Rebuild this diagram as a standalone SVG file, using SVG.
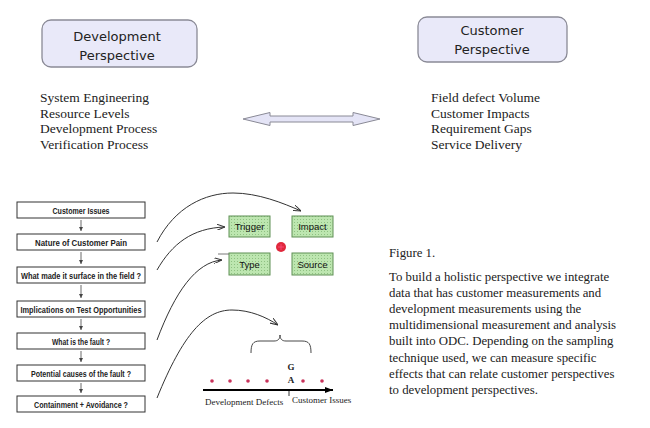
<svg xmlns="http://www.w3.org/2000/svg" width="650" height="428" viewBox="0 0 650 428">
<defs>
<style>
.persp{fill:#e9e9f9;stroke:#8a8a96;stroke-width:1.3}
.ptxt{font-family:"DejaVu Sans",Verdana,sans-serif;font-size:13px;fill:#222;text-anchor:middle}
.list{font-family:"Liberation Serif","Times New Roman",serif;font-size:13.5px;fill:#222}
.step{fill:#fff;stroke:#333;stroke-width:1}
.stxt{font-family:"Liberation Sans",Arial,sans-serif;font-size:9px;font-weight:bold;fill:#222;text-anchor:middle}
.odc{fill:url(#dots);stroke:#5f8f55;stroke-width:1}
.otxt{font-family:"Liberation Sans",Arial,sans-serif;font-size:9.5px;fill:#111;text-anchor:middle}
.curve{fill:none;stroke:#333;stroke-width:1}
.down{stroke:#444;stroke-width:0.8}
.para{font-family:"Liberation Serif","Times New Roman",serif;font-size:12.8px;fill:#222}
.small{font-family:"Liberation Serif","Times New Roman",serif;font-size:9px;fill:#222}
</style>
<pattern id="dots" width="3" height="3" patternUnits="userSpaceOnUse">
<rect width="3" height="3" fill="#bde6b0"/>
<rect width="1" height="1" fill="#8fc082"/>
</pattern>
<marker id="open" viewBox="0 0 8 6" refX="8" refY="3" markerWidth="8" markerHeight="6" orient="auto" markerUnits="userSpaceOnUse">
<path d="M0,0 L8,3 L0,6" fill="none" stroke="#333" stroke-width="1"/>
</marker>
<marker id="tiny" viewBox="0 0 4 4" refX="4" refY="2" markerWidth="4" markerHeight="4" orient="auto" markerUnits="userSpaceOnUse">
<path d="M0,0 L4,2 L0,4 Z" fill="#444"/>
</marker>
<marker id="solid" viewBox="0 0 8 6" refX="8" refY="3" markerWidth="8" markerHeight="6" orient="auto" markerUnits="userSpaceOnUse">
<path d="M0,0 L8,3 L0,6 Z" fill="#000"/>
</marker>
</defs>
<rect width="650" height="428" fill="#fff"/>

<g id="dev-perspective">
<rect class="persp" x="42" y="20" width="155" height="47" rx="9"/>
<text class="ptxt" x="117" y="41">Development</text>
<text class="ptxt" x="117" y="60">Perspective</text>
</g>
<g id="cust-perspective">
<rect class="persp" x="418" y="17" width="149" height="45" rx="9"/>
<text class="ptxt" x="492" y="35">Customer</text>
<text class="ptxt" x="492" y="54">Perspective</text>
</g>

<g id="dev-list">
<text class="list" x="40" y="102">System Engineering</text>
<text class="list" x="40" y="117.5">Resource Levels</text>
<text class="list" x="40" y="133">Development Process</text>
<text class="list" x="40" y="148.5">Verification Process</text>
</g>
<g id="cust-list">
<text class="list" x="431" y="102">Field defect Volume</text>
<text class="list" x="431" y="117.5">Customer Impacts</text>
<text class="list" x="431" y="133">Requirement Gaps</text>
<text class="list" x="431" y="148.5">Service Delivery</text>
</g>

<g id="double-arrow">
<path d="M243,119 L270,112.5 L270,116 L353,116 L353,112.5 L380,119 L353,125.5 L353,122 L270,122 L270,125.5 Z" fill="#e4e4f6" stroke="#8a8a96" stroke-width="1"/>
</g>

<g id="step1"><rect class="step" x="17" y="202" width="128" height="16"/><text class="stxt" x="81" y="213.5" textLength="57" lengthAdjust="spacingAndGlyphs">Customer Issues</text></g>
<g id="step2"><rect class="step" x="17" y="234" width="128" height="16"/><text class="stxt" x="81" y="245.5" textLength="92" lengthAdjust="spacingAndGlyphs">Nature of Customer Pain</text></g>
<g id="step3"><rect class="step" x="17" y="267" width="128" height="16"/><text class="stxt" x="81" y="278.5" textLength="120" lengthAdjust="spacingAndGlyphs">What made it surface in the field ?</text></g>
<g id="step4"><rect class="step" x="17" y="301" width="128" height="16"/><text class="stxt" x="81" y="312.5" textLength="121" lengthAdjust="spacingAndGlyphs">Implications on Test Opportunities</text></g>
<g id="step5"><rect class="step" x="17" y="333" width="128" height="16"/><text class="stxt" x="81" y="344.5" textLength="58" lengthAdjust="spacingAndGlyphs">What is the fault ?</text></g>
<g id="step6"><rect class="step" x="17" y="365" width="128" height="16"/><text class="stxt" x="81" y="376.5" textLength="100" lengthAdjust="spacingAndGlyphs">Potential causes of the fault ?</text></g>
<g id="step7"><rect class="step" x="17" y="396" width="128" height="16"/><text class="stxt" x="81" y="407.5" textLength="94" lengthAdjust="spacingAndGlyphs">Containment + Avoidance ?</text></g>

<g id="trigger"><rect class="odc" x="229" y="216" width="41" height="21"/><text class="otxt" x="249.5" y="230">Trigger</text></g>
<g id="impact"><rect class="odc" x="292" y="216" width="41" height="21"/><text class="otxt" x="312.5" y="230">Impact</text></g>
<g id="type"><rect class="odc" x="229" y="253" width="41" height="22"/><text class="otxt" x="249.5" y="267.5">Type</text></g>
<g id="source"><rect class="odc" x="292" y="253" width="41" height="22"/><text class="otxt" x="312.5" y="267.5">Source</text></g>
<g id="center-dot">
<circle cx="281" cy="247" r="5" fill="#e0283c"/>
<path d="M278,247 H284 M281,244 V250" stroke="#f58" stroke-width="0.7"/>
</g>

<g id="connectors">
<line class="down" x1="81" y1="220" x2="81" y2="231" marker-end="url(#tiny)"/>
<line class="down" x1="81" y1="252" x2="81" y2="264" marker-end="url(#tiny)"/>
<line class="down" x1="81" y1="285" x2="81" y2="298" marker-end="url(#tiny)"/>
<line class="down" x1="81" y1="319" x2="81" y2="330" marker-end="url(#tiny)"/>
<line class="down" x1="81" y1="351" x2="81" y2="362" marker-end="url(#tiny)"/>
<line class="down" x1="81" y1="383" x2="81" y2="393" marker-end="url(#tiny)"/>
<path class="curve" d="M157,242 C175,207 205,193 233,193 C258,193 283,203 301,211" marker-end="url(#open)"/>
<path class="curve" d="M157,270 C172,244 192,228 225,227" marker-end="url(#open)"/>
<path class="curve" d="M157,340 C175,292 196,262 222,260" marker-end="url(#open)"/>
<path class="curve" d="M157,398 C183,334 205,310 232,310 C250,310 266,317 278,325" marker-end="url(#open)"/>
<line x1="218" y1="254" x2="229" y2="254" stroke="#555" stroke-width="0.8"/>
</g>

<g id="sampling">
<path d="M251,353 C251,344 253,341 260,341 L274,341 C278,341 280,339 280,335 C280,339 282,341 286,341 L302,341 C309,341 311,344 311,353" fill="none" stroke="#333" stroke-width="0.9"/>
<text class="small" x="291" y="370" text-anchor="middle" font-weight="bold">G</text>
<text class="small" x="291" y="383" text-anchor="middle" font-weight="bold">A</text>
<g fill="#c8325a">
<circle cx="212" cy="381" r="1.8"/><circle cx="230" cy="381" r="1.8"/><circle cx="248" cy="381" r="1.8"/><circle cx="267" cy="381" r="1.8"/><circle cx="303" cy="381" r="1.8"/><circle cx="322" cy="381" r="1.8"/>
</g>
<line x1="203" y1="390" x2="333" y2="390" stroke="#000" stroke-width="2" marker-end="url(#solid)"/>
<line x1="289" y1="390" x2="289" y2="396" stroke="#000" stroke-width="0.8"/>
<text class="small" x="205" y="405">Development Defects</text>
<text class="small" x="292" y="403">Customer Issues</text>
</g>

<g id="caption">
<text class="para" x="389" y="257">Figure 1.</text>
<text class="para" x="389" y="280.5">To build a holistic perspective we integrate</text>
<text class="para" x="389" y="296.5">data that has customer measurements and</text>
<text class="para" x="389" y="313">development measurements using the</text>
<text class="para" x="389" y="329">multidimensional measurement and analysis</text>
<text class="para" x="389" y="345">built into ODC. Depending on the sampling</text>
<text class="para" x="389" y="361.5">technique used, we can measure specific</text>
<text class="para" x="389" y="377.5">effects that can relate customer perspectives</text>
<text class="para" x="389" y="393.5">to development perspectives.</text>
</g>
</svg>
